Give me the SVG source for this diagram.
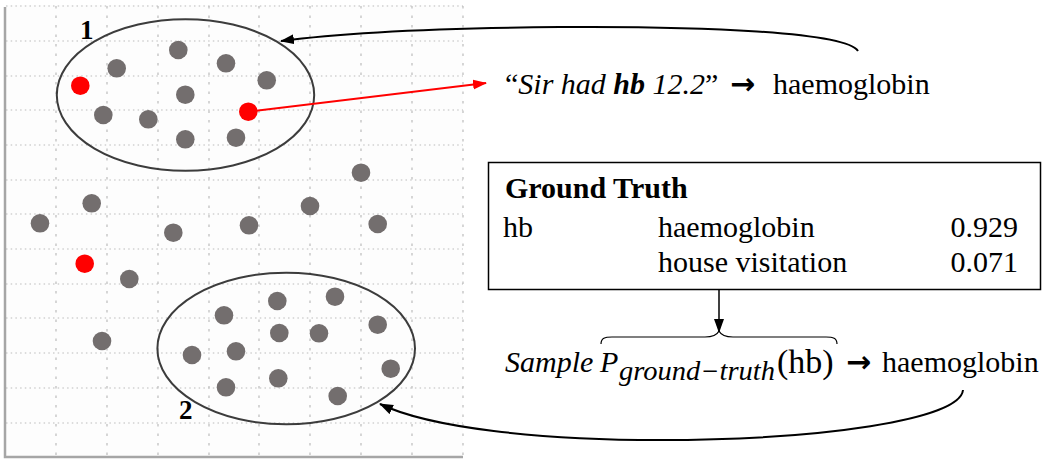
<svg xmlns="http://www.w3.org/2000/svg" width="1049" height="459" viewBox="0 0 1049 459">
<style>
.t{font-family:"Liberation Serif","Times New Roman",serif;font-size:30px;fill:#000}
.it{font-style:italic}
.b{font-weight:bold}
.arr{font-family:"DejaVu Sans",sans-serif;font-weight:bold;font-size:30px;fill:#000}
.gh{stroke:#bcbcbc;stroke-width:1.2;stroke-dasharray:1.5 3.2;fill:none}
.gv{stroke:#bcbcbc;stroke-width:1.2;stroke-dasharray:2.5 7;fill:none}
.dot{fill:#736e6e}
.red{fill:#ff0000}
.ell{fill:none;stroke:#3c3c3c;stroke-width:2}
.con{fill:none;stroke:#000;stroke-width:2}
</style>
<defs>
<marker id="ah" markerUnits="userSpaceOnUse" markerWidth="14" markerHeight="11" refX="13" refY="5" orient="auto">
<path d="M0,0 L14,5 L0,10 z" fill="#000"/>
</marker>
<marker id="ahr" markerUnits="userSpaceOnUse" markerWidth="14" markerHeight="11" refX="13" refY="5" orient="auto">
<path d="M0,0 L14,5 L0,10 z" fill="#ff0000"/>
</marker>
</defs>
<rect width="1049" height="459" fill="#fff"/>
<g id="grid">
<rect x="5" y="5" width="458" height="452" fill="#fdfdfd"/>
<path class="gh" d="M6 6H463M6 41H463M6 76H463M6 110H463M6 145H463M6 180H463M6 214H463M6 249H463M6 284H463M6 318H463M6 353H463M6 388H463M6 423H463"/>
<path class="gv" d="M56 6V456M107 6V456M158 6V456M209 6V456M259 6V456M310 6V456M361 6V456M412 6V456M463 6V456"/>
<path d="M5 7V457H463" fill="none" stroke="#a6a6a6" stroke-width="2.5"/>
</g>
<g id="cluster1">
<ellipse class="ell" cx="185.5" cy="95" rx="128.7" ry="75.8"/>
<text class="t b" x="80" y="39" style="font-size:27px">1</text>
</g>
<g id="cluster2">
<ellipse class="ell" cx="286.2" cy="348.5" rx="128.8" ry="75.8"/>
<text class="t b" x="179" y="419" style="font-size:27px">2</text>
</g>
<g id="points">
<circle class="dot" cx="178.3" cy="50" r="9.3"/>
<circle class="dot" cx="116.7" cy="68.3" r="9.3"/>
<circle class="dot" cx="226" cy="63.3" r="9.3"/>
<circle class="dot" cx="266.7" cy="80.3" r="9.3"/>
<circle class="dot" cx="185.3" cy="94.7" r="9.3"/>
<circle class="dot" cx="103.3" cy="115" r="9.3"/>
<circle class="dot" cx="148.3" cy="119.3" r="9.3"/>
<circle class="dot" cx="185.3" cy="139.3" r="9.3"/>
<circle class="dot" cx="236" cy="137.7" r="9.3"/>
<circle class="dot" cx="361" cy="172.7" r="9.3"/>
<circle class="dot" cx="91.7" cy="203.3" r="9.3"/>
<circle class="dot" cx="310" cy="206" r="9.3"/>
<circle class="dot" cx="40" cy="223.3" r="9.3"/>
<circle class="dot" cx="173.3" cy="232.7" r="9.3"/>
<circle class="dot" cx="249" cy="225.3" r="9.3"/>
<circle class="dot" cx="377.7" cy="224" r="9.3"/>
<circle class="dot" cx="129.3" cy="279" r="9.3"/>
<circle class="dot" cx="102" cy="341" r="9.3"/>
<circle class="dot" cx="335" cy="296.7" r="9.3"/>
<circle class="dot" cx="277.3" cy="301" r="9.3"/>
<circle class="dot" cx="224" cy="315.3" r="9.3"/>
<circle class="dot" cx="279.3" cy="333" r="9.3"/>
<circle class="dot" cx="319" cy="333.3" r="9.3"/>
<circle class="dot" cx="377.7" cy="324.7" r="9.3"/>
<circle class="dot" cx="236" cy="351.3" r="9.3"/>
<circle class="dot" cx="192" cy="355" r="9.3"/>
<circle class="dot" cx="390.7" cy="368.7" r="9.3"/>
<circle class="dot" cx="278.3" cy="378.3" r="9.3"/>
<circle class="dot" cx="226" cy="387.3" r="9.3"/>
<circle class="dot" cx="337.7" cy="396" r="9.3"/>
<circle class="red" cx="80.3" cy="85.7" r="9.3"/>
<circle class="red" cx="248.3" cy="111.7" r="9.3"/>
<circle class="red" cx="84.7" cy="263.7" r="9.3"/>
</g>
<g id="sentence">
<text class="t" x="505" y="94">“<tspan class="it">Sir had </tspan><tspan class="it b">hb</tspan><tspan class="it"> 12.2</tspan>”</text>
<text class="arr" x="730" y="94">→</text>
<text class="t" x="773" y="94">haemoglobin</text>
</g>
<g id="ground-truth">
<rect x="488.5" y="162.5" width="552" height="127" fill="#fff" stroke="#000" stroke-width="1.5"/>
<text class="t b" x="505" y="198">Ground Truth</text>
<text class="t" x="503" y="237">hb</text>
<text class="t" x="658" y="237">haemoglobin</text>
<text class="t" x="1018" y="237" text-anchor="end">0.929</text>
<text class="t" x="658" y="272">house visitation</text>
<text class="t" x="1018" y="272" text-anchor="end">0.071</text>
</g>
<g id="sample">
<path d="M601 344C601 338 605 337 612 337L705 337C713 337 717 335 719 331C721 335 725 337 733 337L826 337C833 337 837 338 837 344" fill="none" stroke="#000" stroke-width="1.2"/>
<text class="t it" x="505" y="372">Sample</text>
<text class="t it" x="600" y="372">P</text>
<text class="t it" x="619" y="380" style="font-size:27px" textLength="156" lengthAdjust="spacingAndGlyphs">ground−truth</text>
<text class="t" x="777" y="373" style="font-size:34px">(hb)</text>
<text class="arr" x="846" y="372">→</text>
<text class="t" x="882" y="372">haemoglobin</text>
</g>
<g id="connectors">
<path class="con" d="M858 51C846 32 700 26 560 27C440 28 340 33 281 41" marker-end="url(#ah)"/>
<path d="M248.3 111.7L486 83" fill="none" stroke="#ff0000" stroke-width="2" marker-end="url(#ahr)"/>
<line x1="719" y1="289" x2="719" y2="332" stroke="#000" stroke-width="1.5" marker-end="url(#ah)"/>
<path class="con" d="M963 390C960 420 820 440 660 440C540 440 430 428 380 404" marker-end="url(#ah)"/>
</g>
</svg>
